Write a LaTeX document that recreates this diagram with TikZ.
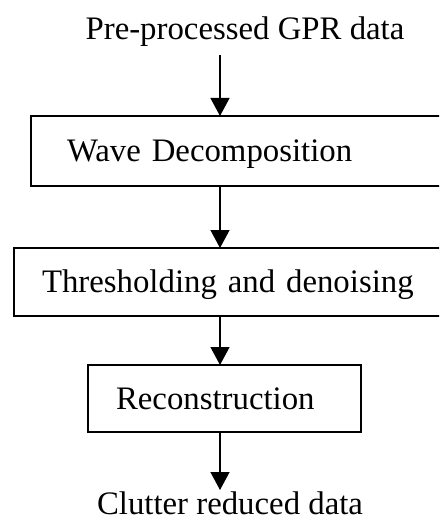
\documentclass[tikz,border=0pt]{standalone}
\usepackage{fontspec}
\setmainfont{Liberation Serif}
\usetikzlibrary{arrows.meta}
\begin{document}
\begin{tikzpicture}[x=1pt,y=1pt,
  every node/.style={font=\fontsize{32.8}{38}\selectfont, outer sep=0pt},
  termtext/.style={anchor=base, inner sep=0pt},
  procbox/.style={draw, line width=1.3pt, anchor=north west, align=left,
    text height=21pt, text depth=0pt, inner ysep=0pt},
  arr/.style={line width=1.3pt, -{Triangle[width=19pt,length=18pt]}}]
\useasboundingbox (0,0) rectangle (439,-521);
\clip (0,0) rectangle (439,-521);
\fill[white] (0,0) rectangle (439,-521);
\node[termtext] (in) at (245,-40) {Pre-processed GPR data};
\node[procbox, inner xsep=36pt, text width=347pt, minimum height=70pt] (b1) at (31,-116) {Wave Decomposition};
\node[procbox, inner xsep=28pt, text width=380pt, minimum height=68pt] (b2) at (14,-248) {Thresholding and denoising};
\node[procbox, inner xsep=28pt, text width=217pt, minimum height=67pt] (b3) at (88,-365) {Reconstruction};
\node[termtext] (out) at (230,-514) {Clutter reduced data};
\coordinate (a1s) at (220,-55);
\coordinate (a4e) at (220,-490);
\draw[arr] (a1s) -- (a1s |- b1.north);
\draw[arr] (a1s |- b1.south) -- (a1s |- b2.north);
\draw[arr] (a1s |- b2.south) -- (a1s |- b3.north);
\draw[arr] (a1s |- b3.south) -- (a4e);
\end{tikzpicture}
\end{document}
